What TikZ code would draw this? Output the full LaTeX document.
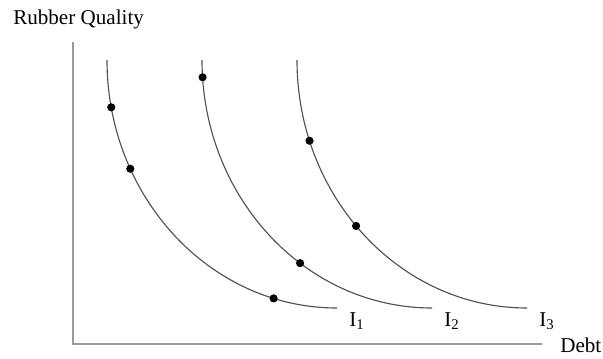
\documentclass[tikz,border=0pt]{standalone}
\usepackage{fontspec}
\setmainfont{Liberation Serif}
\usetikzlibrary{calc}
\definecolor{axisgray}{HTML}{9A9A9A}
\definecolor{curvegray}{HTML}{505050}
\tikzset{
  axis/.style={draw=axisgray, line width=1.3pt},
  icurve/.style={draw=curvegray, line width=0.8pt},
  dot/.style={circle, fill=black, inner sep=0pt, minimum size=5.8pt},
  lbl/.style={font=\fontsize{15}{18}\selectfont, inner sep=0pt}
}

\begin{document}
\begin{tikzpicture}[x=0.025cm, y=0.025cm]
  \useasboundingbox (0,0) rectangle (603,358);
  % axes
  \coordinate (origin) at (73,14);
  \coordinate (ytop) at (73,316);
  \coordinate (xend) at (542,14);
  \draw[axis] (ytop) -- (origin) -- (xend);
  \node[lbl, anchor=base west] (ylab) at (13,334) {Rubber Quality};
  \node[lbl, anchor=base west] (xlab) at (560,6) {Debt};
  % indifference curves
  \foreach \k/\cx in {1/337, 2/432, 3/527} {
    \coordinate (c\k) at (\cx,298);
    \draw[icurve] ($(c\k)+(-230,0)$) coordinate (top\k)
      arc[start angle=180, end angle=270, x radius=230, y radius=248] coordinate (end\k);
    \node[lbl, anchor=base west] (i\k) at ($(end\k)+(12,-18)$) {I\textsubscript{\k}};
  }
  % points on the curves
  \foreach \k/\a [count=\n] in {1/191, 1/206, 1/254, 2/184, 2/235, 3/199, 3/222}
    \node[dot] (p\n) at ($(c\k)+(\a:230 and 248)$) {};
\end{tikzpicture}
\end{document}
